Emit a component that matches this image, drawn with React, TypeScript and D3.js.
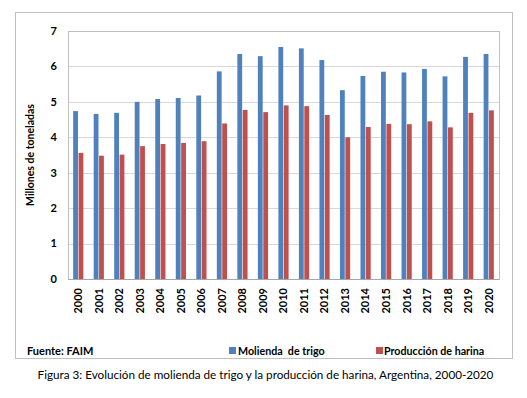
import React from "react";
import * as d3 from "d3";

const years = ["2000","2001","2002","2003","2004","2005","2006","2007","2008","2009","2010","2011","2012","2013","2014","2015","2016","2017","2018","2019","2020"];
const molienda = [4.74,4.66,4.69,5.0,5.08,5.11,5.18,5.86,6.35,6.29,6.55,6.51,6.18,5.33,5.73,5.85,5.83,5.93,5.72,6.27,6.35];
const harina = [3.56,3.48,3.51,3.75,3.81,3.84,3.89,4.39,4.77,4.71,4.90,4.88,4.63,4.0,4.29,4.38,4.37,4.45,4.28,4.69,4.76];
const yTicks = [0,1,2,3,4,5,6,7];
const seriesNames = ["Molienda  de trigo", "Producción de harina"];
const colors = ["#4F81BD", "#C0504D"];

const W = 527, H = 398;
const plot = { left: 68, right: 499, top: 31, bottom: 279 };
const font = "Lato, 'Open Sans', sans-serif";

export default function App() {
  const x = d3.scaleBand().domain(years).range([plot.left, plot.right]).paddingInner(0).paddingOuter(0);
  const y = d3.scaleLinear().domain([0, 7]).range([plot.bottom, plot.top]);
  const barW = 4.8;
  const gap = 0.6;
  return (
    <svg width={W} height={H} style={{ position: "absolute", left: 0, top: 0, background: "#fff" }}>
      <rect x={15.5} y={12.5} width={497} height={346} fill="#fff" stroke="#BFBFBF" strokeWidth={1} />
      {yTicks.map((t) => (
        <line key={"g" + t} x1={plot.left} x2={plot.right} y1={Math.round(y(t)) + 0.5} y2={Math.round(y(t)) + 0.5} stroke="#D9D9D9" strokeWidth={1} />
      ))}
      <rect x={plot.left + 0.5} y={plot.top + 0.5} width={plot.right - plot.left} height={plot.bottom - plot.top} fill="none" stroke="#BFBFBF" strokeWidth={1} />
      {years.map((yr, i) => {
        const c = x(yr)! + x.bandwidth() / 2;
        return (
          <g key={yr}>
            <rect x={c - gap / 2 - barW} y={y(molienda[i])} width={barW} height={y(0) - y(molienda[i])} fill={colors[0]} />
            <rect x={c + gap / 2} y={y(harina[i])} width={barW} height={y(0) - y(harina[i])} fill={colors[1]} />
          </g>
        );
      })}
      <line x1={plot.left} x2={plot.right} y1={y(0) + 0.5} y2={y(0) + 0.5} stroke="#A6A6A6" strokeWidth={1} />
      {yTicks.map((t) => (
        <text key={"t" + t} x={57} y={y(t)} dy="0.35em" textAnchor="end" fontFamily={font} fontWeight="bold" fontSize={11} fill="#000">{t}</text>
      ))}
      {years.map((yr) => {
        const c = x(yr)! + x.bandwidth() / 2;
        return (
          <text key={"x" + yr} transform={`translate(${c},${288}) rotate(-90)`} textAnchor="end" dy="0.35em" fontFamily={font} fontWeight="bold" fontSize={11} fill="#000">{yr}</text>
        );
      })}
      <text transform={`translate(30,${(plot.top + plot.bottom) / 2}) rotate(-90)`} textAnchor="middle" dy="0.35em" fontFamily={font} fontWeight="bold" fontSize={10.5} fill="#000">Millones de toneladas</text>
      <text x={27} y={355} fontFamily={font} fontWeight="bold" fontSize={11} fill="#000">Fuente: FAIM</text>
      <rect x={229} y={347} width={7} height={7} fill={colors[0]} />
      <text x={238} y={355} fontFamily={font} fontWeight="bold" fontSize={10.7} fill="#000" style={{ whiteSpace: "pre" }}>{seriesNames[0]}</text>
      <rect x={376} y={347} width={7} height={7} fill={colors[1]} />
      <text x={384} y={355} fontFamily={font} fontWeight="bold" fontSize={10.7} fill="#000">{seriesNames[1]}</text>
      <text x={265.5} y={379} textAnchor="middle" fontFamily={font} fontSize={11.7} fill="#000">Figura 3: Evolución de molienda de trigo y la producción de harina, Argentina, 2000-2020</text>
    </svg>
  );
}
